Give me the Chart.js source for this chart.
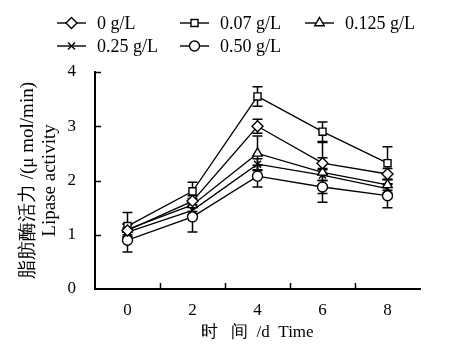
<!DOCTYPE html>
<html>
<head>
<meta charset="utf-8">
<script src="https://cdn.jsdelivr.net/npm/chart.js@4/dist/chart.umd.min.js"></script>
<style>
  html, body { margin: 0; padding: 0; background: #fff; }
  #wrap { width: 460px; height: 360px; }
</style>
</head>
<body>
<div id="wrap"><canvas id="miGrafica"></canvas></div>
<script>
// datos
var dias = ["0", "2", "4", "6", "8"]
var series = ["0 g/L", "0.07 g/L", "0.125 g/L", "0.25 g/L", "0.50 g/L"]
var v0 = [1.08, 1.62, 3.00, 2.32, 2.12]
var v007 = [1.16, 1.80, 3.55, 2.90, 2.32]
var v0125 = [1.10, 1.55, 2.50, 2.15, 1.92]
var v025 = [1.05, 1.45, 2.30, 2.10, 1.85]
var v050 = [0.90, 1.33, 2.08, 1.88, 1.72]
// desviaciones (barras de error)
var e0 = [0.12, 0.10, 0.13, 0.10, 0.10]
var e007 = [0.25, 0.17, 0.18, 0.18, 0.30]
var e0125 = [0.10, 0.12, 0.32, 0.55, 0.10]
var e025 = [0.08, 0.10, 0.10, 0.10, 0.08]
var e050 = [0.22, 0.28, 0.20, 0.12, 0.22]
var yTicks = [0, 1, 2, 3, 4]

var valores = [v0, v007, v0125, v025, v050]
var errores = [e0, e007, e0125, e025, e050]
var simbolos = ["rectRot", "rect", "triangle", "crossRot", "circle"]
var radios = [5.5, 5, 5.5, 5, 5]

var FUENTE = "'Liberation Serif', 'Times New Roman', serif"

var datasets = series.map(function (s, i) {
  return {
    label: s,
    data: valores[i],
    borderColor: "#000",
    borderWidth: 1.3,
    pointStyle: simbolos[i],
    pointRadius: radios[i],
    pointBorderWidth: 1.4,
    pointBackgroundColor: "#fff",
    pointBorderColor: "#000",
    fill: false,
    tension: 0
  }
})

var pluginErrores = { // barras de error, marcas hacia dentro y leyenda
  id: "errores",
  beforeDatasetsDraw: function (chart) {
    var ctx = chart.ctx
    var y = chart.scales.y
    ctx.save()
    ctx.strokeStyle = "#000"
    ctx.lineWidth = 1.5
    chart.data.datasets.forEach(function (ds, i) {
      var meta = chart.getDatasetMeta(i)
      meta.data.forEach(function (p, j) {
        var top = y.getPixelForValue(ds.data[j] + errores[i][j])
        var bot = y.getPixelForValue(ds.data[j] - errores[i][j])
        ctx.beginPath()
        ctx.moveTo(p.x, top); ctx.lineTo(p.x, bot)
        ctx.moveTo(p.x - 5, top); ctx.lineTo(p.x + 5, top)
        ctx.moveTo(p.x - 5, bot); ctx.lineTo(p.x + 5, bot)
        ctx.stroke()
      })
    })
    ctx.restore()
  },
  afterDraw: function (chart) {
    var ctx = chart.ctx
    var x = chart.scales.x
    var y = chart.scales.y
    var a = chart.chartArea
    ctx.save()
    ctx.strokeStyle = "#000"
    ctx.lineWidth = 1.5
    ctx.beginPath()
    yTicks.slice(1).forEach(function (t) {
      var py = Math.round(y.getPixelForValue(t)) + 0.5
      ctx.moveTo(a.left, py); ctx.lineTo(a.left + 6, py)
    })
    for (var k = 0; k < dias.length - 1; k++) {
      var px = Math.round((x.getPixelForValue(k) + x.getPixelForValue(k + 1)) / 2) + 0.5
      ctx.moveTo(px, a.bottom); ctx.lineTo(px, a.bottom - 6)
    }
    ctx.stroke()

    // leyenda en dos filas
    var cols = [57, 180, 305]
    var filas = [23, 46]
    ctx.font = "18px " + FUENTE
    ctx.textBaseline = "middle"
    series.forEach(function (s, i) {
      var cx = cols[i % 3]
      var cy = filas[Math.floor(i / 3)]
      ctx.lineWidth = 1.4
      ctx.strokeStyle = "#000"
      ctx.beginPath()
      ctx.moveTo(cx, cy); ctx.lineTo(cx + 29, cy)
      ctx.stroke()
      ctx.fillStyle = "#fff"
      Chart.helpers.drawPoint(ctx, { pointStyle: simbolos[i], radius: radios[i], borderWidth: 1.4, rotation: 0 }, cx + 14.5, cy)
      ctx.fillStyle = "#000"
      ctx.fillText(s, cx + 40, cy + 1)
    })
    ctx.restore()
  }
}

new Chart("miGrafica", {
  type: "line",
  data: { labels: dias, datasets: datasets },
  plugins: [pluginErrores],
  options: {
    responsive: true,
    maintainAspectRatio: false,
    animation: false,
    layout: { padding: { top: 72, right: 40, bottom: 0, left: 0 } },
    plugins: { legend: { display: false }, tooltip: { enabled: false } },
    scales: {
      x: {
        offset: true,
        grid: { display: false },
        border: { display: true, color: "#000", width: 2 },
        ticks: { color: "#000", padding: 3, font: { family: FUENTE, size: 17 } },
        title: {
          display: true, text: "时   间  /d  Time", color: "#000",
          font: { family: FUENTE, size: 17 }, padding: { top: 0, bottom: 17 }
        },
        afterFit: function (s) { s.height = 71 }
      },
      y: {
        min: 0, max: 4,
        grid: { display: false },
        border: { display: true, color: "#000", width: 2 },
        ticks: { stepSize: 1, color: "#000", padding: 11, font: { family: FUENTE, size: 17 } },
        title: {
          display: true, text: ["脂肪酶活力 /(μ mol/min)", "Lipase activity"], color: "#000",
          font: { family: FUENTE, size: 19, lineHeight: 1.16 }, padding: { top: 17, bottom: 0 }
        },
        afterFit: function (s) { s.width = 95 }
      }
    }
  }
});
</script>
</body>
</html>
